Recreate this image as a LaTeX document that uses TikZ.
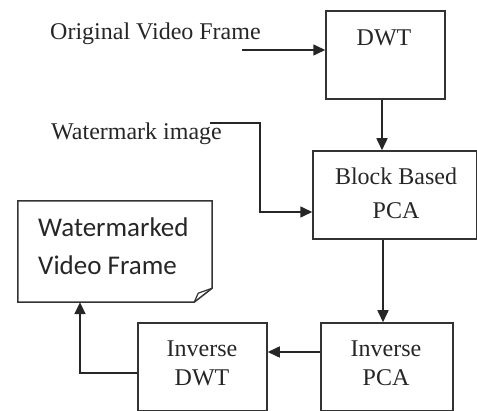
\documentclass[tikz,border=0pt]{standalone}
\usepackage{fontspec}
\setmainfont{Liberation Serif}
\newfontfamily\calib{Carlito}
\usetikzlibrary{arrows.meta}

\begin{document}
\begin{tikzpicture}[
    x=1pt, y=-1pt,
    blk/.style={rectangle, draw=black!80, line width=1.5pt, inner sep=0pt},
    lbl/.style={font=\fontsize{24}{34}\selectfont, text=black!85, inner sep=0pt, align=center},
    arr/.style={draw=black!85, line width=1.6pt, -{Triangle[length=12pt,width=11pt]}}
]
\useasboundingbox (0,0) rectangle (477,411);

% Blocks
\node[blk, minimum width=119pt, minimum height=88pt] (dwt) at (385.5,55) {};
\node[blk, minimum width=164pt, minimum height=88pt] (bbpca) at (395,195) {};
\node[blk, minimum width=132pt, minimum height=88pt] (ipca) at (387,367) {};
\node[blk, minimum width=129pt, minimum height=88pt] (idwt) at (202.5,367) {};
\node[minimum width=194pt, minimum height=101pt, inner sep=0pt] (wvf) at (115,251.5) {};

% Document shape with folded corner
\draw[black!80, line width=1.5pt] (wvf.north west) -- (wvf.north east)
    -- ([yshift=14pt]wvf.south east) -- ([xshift=-18pt]wvf.south east)
    -- (wvf.south west) -- cycle;
\draw[black!80, line width=1.2pt] ([yshift=14pt]wvf.south east)
    -- ([shift={(-14pt,9pt)}]wvf.south east) -- ([xshift=-18pt]wvf.south east);

% Texts (base = last line)
\node[lbl, anchor=base] (dwtlbl) at (384,46) {DWT};
\node[lbl, anchor=base] (bbpcalbl) at (396,219) {Block Based\\PCA};
\node[lbl, anchor=base, font=\fontsize{24}{29}\selectfont] (idwtlbl) at (202,386) {Inverse\\DWT};
\node[lbl, anchor=base, font=\fontsize{24}{29}\selectfont] (ipcalbl) at (386,386) {Inverse\\PCA};
\node[lbl, anchor=base west] (origlbl) at (50,40) {Original Video Frame};
\node[lbl, anchor=base west] (wmlbl) at (51,140) {Watermark image};
\node[lbl, anchor=base west, align=left, font=\calib\fontsize{27}{38}\selectfont] (wvflbl) at (38,275) {Watermarked\\Video Frame};

% Free ends
\coordinate (origout) at (242,50);
\coordinate (wmout) at (210,123);

% Connectors
\draw[arr] (origout) -- (origout -| dwt.west);
\draw[arr] (wmout) -- ++(50,0) |- ([yshift=-17pt]bbpca.west);
\draw[arr] ([xshift=-3.5pt]dwt.south) -- ([xshift=-3.5pt]dwt.south |- bbpca.north);
\draw[arr] ([xshift=-4pt]ipca.north |- bbpca.south) -- ([xshift=-4pt]ipca.north);
\draw[arr] ([yshift=15pt]ipca.west) -- ([yshift=15pt]ipca.west -| idwt.east);
\draw[arr] ([yshift=-6pt]idwt.west) -| ([xshift=-35pt]wvf.south);
\end{tikzpicture}
\end{document}
